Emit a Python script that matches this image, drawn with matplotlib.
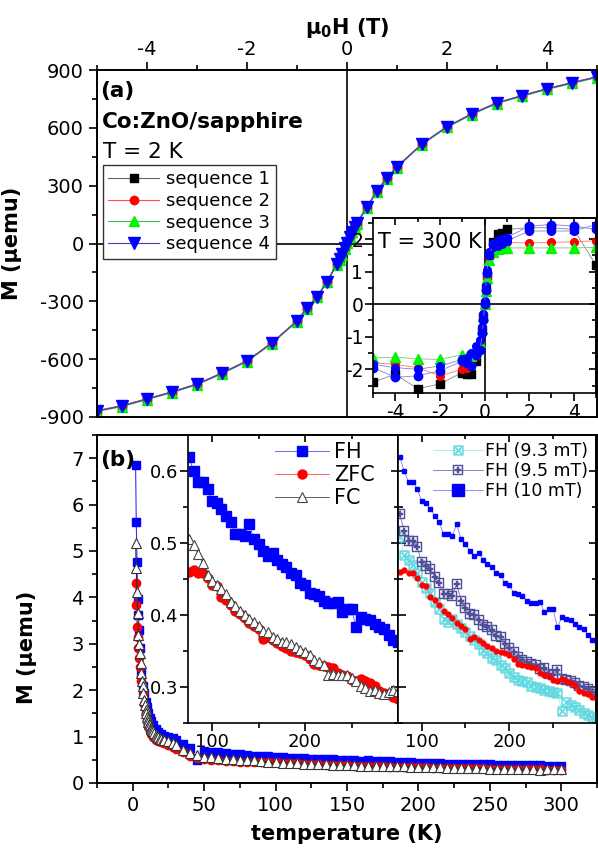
import matplotlib
matplotlib.use('Agg')
import matplotlib.pyplot as plt
from matplotlib.ticker import MultipleLocator, FixedLocator

plt.rcParams['font.family'] = ['DejaVu Sans']
plt.rcParams['axes.unicode_minus'] = False
plt.rcParams['mathtext.default'] = 'regular'

# ---------------- data: panel (a), T = 2 K ----------------
H2 = [-5, -4.5, -4, -3.5, -3, -2.5, -2, -1.5, -1, -0.8, -0.6, -0.4, -0.2, -0.15, -0.1, -0.05,
      0, 0.05, 0.1, 0.15, 0.2, 0.4, 0.6, 0.8, 1, 1.5, 2, 2.5, 3, 3.5, 4, 4.5, 5]
seq1_2K = [-866, -841, -805, -769, -728, -671, -608, -514, -400, -334, -275, -197, -104, -78, -53, -23,
           7, 37, 64, 87, 108, 191, 274, 342, 399, 518, 607, 674, 731, 768, 804, 835, 866]
seq2_2K = [-868, -842, -806, -770, -729, -672, -609, -515, -401, -335, -276, -198, -105, -79, -54, -24,
           6, 36, 63, 86, 107, 190, 273, 341, 398, 517, 606, 673, 730, 767, 803, 834, 865]
seq3_2K = [-872, -846, -810, -774, -733, -676, -613, -519, -405, -339, -280, -202, -109, -83, -58, -28,
           2, 32, 59, 82, 103, 186, 269, 337, 394, 513, 602, 669, 726, 763, 799, 830, 861]
seq4_2K = [-869, -843, -807, -771, -730, -673, -610, -516, -402, -336, -277, -199, -106, -80, -55, -25,
           5, 35, 62, 85, 106, 189, 272, 340, 397, 516, 605, 672, 729, 766, 802, 833, 864]

# ---------------- data: inset (a), T = 300 K ----------------
H300 = [-5, -4, -3, -2, -1, -0.8, -0.6, -0.4, -0.2, -0.1, -0.05, 0, 0.05, 0.1, 0.2, 0.4, 0.6, 0.8, 1, 2, 3, 4, 5]
seq1_300K = [-2.4, -2.15, -2.6, -2.45, -2.1, -2.15, -2.15, -1.75, -1.3, -0.8, -0.4, 0.0, 0.5, 0.9, 1.5, 1.9,
             2.15, 2.2, 2.3, 2.35, 2.35, 2.3, 1.2]
seq2_300K = [-1.8, -1.85, -1.95, -2.2, -2.0, -1.95, -1.9, -1.6, -1.2, -0.7, -0.3, 0.05, 0.45, 0.85, 1.45, 1.75,
             1.85, 1.9, 1.9, 1.88, 1.9, 1.92, 1.95]
seq3_300K = [-1.65, -1.63, -1.68, -1.7, -1.55, -1.6, -1.6, -1.45, -1.15, -0.75, -0.35, 0.0, 0.4, 0.8, 1.35, 1.6,
             1.7, 1.72, 1.73, 1.73, 1.73, 1.73, 1.75]
seq4_300K = [-1.95, -2.25, -2.2, -2.05, -1.75, -1.8, -1.9, -1.55, -1.4, -0.9, -0.5, 0.0, 0.45, 0.95, 1.5, 1.85,
             1.95, 2.0, 2.05, 2.4, 2.45, 2.4, 2.3]
seq4b_300K = [-1.85, -1.95, -2.0, -1.9, -1.7, -1.65, -1.5, -1.3, -1.1, -0.7, -0.3, 0.1, 0.55, 1.05, 1.6, 1.75,
              1.8, 1.85, 1.95, 2.25, 2.25, 2.25, 2.45]

# ---------------- data: panel (b) ----------------
T_low = [2, 2.5, 3, 3.5, 4, 4.5, 5, 6, 7, 8, 9, 10, 11, 12, 13, 14, 16, 18, 20, 22, 25, 28, 30,
         35, 40, 45, 50, 55, 60, 65, 70]
FH_low = [6.85, 5.62, 4.77, 3.97, 3.62, 3.3, 2.9, 2.37, 2.1, 1.94, 1.75, 1.64, 1.5, 1.4, 1.33, 1.26,
          1.17, 1.1, 1.05, 1.02, 1.0, 0.97, 0.93, 0.84, 0.76, 0.50, 0.68, 0.67, 0.66, 0.645, 0.63]
ZFC_low = [4.3, 3.84, 3.37, 3.15, 2.9, 2.7, 2.5, 2.2, 1.95, 1.7, 1.5, 1.35, 1.22, 1.12, 1.05, 1.0,
           0.93, 0.9, 0.88, 0.86, 0.82, 0.77, 0.74, 0.66, 0.59, 0.54, 0.51, 0.495, 0.485, 0.475, 0.468]
T_fc_low = [2, 2.5, 3, 3.5, 4, 4.5, 5, 5.5, 6, 6.5, 7, 7.5, 8, 8.5, 9, 9.5, 10, 10.5, 11, 11.5, 12, 12.5,
            13, 13.5, 14, 15, 16, 17, 18, 19, 20, 21, 22, 25, 28, 30, 35, 40, 45, 50, 55, 60, 65, 70]
FC_low = [5.17, 4.63, 4.12, 3.66, 3.19, 3.0, 2.8, 2.59, 2.37, 2.2, 2.08, 1.93, 1.79, 1.68, 1.57, 1.5,
          1.43, 1.37, 1.32, 1.28, 1.24, 1.2, 1.17, 1.14, 1.11, 1.07, 1.04, 1.01, 0.99, 0.97, 0.95, 0.93,
          0.92, 0.9, 0.86, 0.82, 0.72, 0.65, 0.6, 0.57, 0.55, 0.535, 0.525, 0.515]

T_high = [75, 80, 85, 90, 95, 100, 105, 110, 115, 120, 125, 130, 135, 140, 145, 150, 155, 160, 165, 170,
          175, 180, 185, 190, 195, 200, 205, 210, 215, 220, 225, 230, 235, 240, 245, 250, 255, 260, 265,
          270, 275, 280, 285, 290, 295, 300]
FH_high = [0.62, 0.60, 0.585, 0.585, 0.575, 0.558, 0.555, 0.547, 0.538, 0.529, 0.512, 0.513, 0.510, 0.526,
           0.505, 0.499, 0.489, 0.482, 0.486, 0.477, 0.471, 0.467, 0.459, 0.455, 0.445, 0.441, 0.431, 0.429,
           0.426, 0.420, 0.416, 0.417, 0.418, 0.404, 0.408, 0.408, 0.383, 0.397, 0.395, 0.393, 0.388, 0.384,
           0.380, 0.372, 0.365, 0.362]
ZFC_high = [0.46, 0.463, 0.458, 0.458, 0.452, 0.442, 0.440, 0.425, 0.421, 0.414, 0.405, 0.401, 0.396, 0.389,
            0.385, 0.381, 0.367, 0.370, 0.365, 0.361, 0.357, 0.354, 0.350, 0.348, 0.347, 0.344, 0.339, 0.332,
            0.330, 0.329, 0.328, 0.326, 0.320, 0.316, 0.315, 0.310, 0.309, 0.311, 0.308, 0.306, 0.301, 0.295,
            0.292, 0.290, 0.286, 0.284]
FC_high = [0.505, 0.497, 0.485, 0.472, 0.456, 0.447, 0.441, 0.436, 0.429, 0.418, 0.412, 0.405, 0.400, 0.395,
           0.390, 0.385, 0.378, 0.377, 0.370, 0.366, 0.363, 0.362, 0.360, 0.356, 0.352, 0.349, 0.344, 0.337,
           0.335, 0.330, 0.317, 0.318, 0.317, 0.316, 0.316, 0.312, 0.309, 0.302, 0.299, 0.295, 0.296, 0.292,
           0.290, 0.293, 0.296, 0.294]
FH95_high = [0.540, 0.517, 0.503, 0.503, 0.494, 0.473, 0.468, 0.464, 0.453, 0.444, 0.429, 0.429, 0.427, 0.443,
             0.420, 0.410, 0.401, 0.400, 0.393, 0.386, 0.383, 0.379, 0.371, 0.369, 0.360, 0.354, 0.348, 0.341,
             0.338, 0.335, 0.332, 0.330, 0.325, 0.326, 0.318, 0.316, 0.324, 0.311, 0.310, 0.308, 0.305, 0.302,
             0.300, 0.297, 0.293, 0.290]
FH93_high = [0.508, 0.484, 0.476, 0.469, 0.458, 0.446, 0.437, 0.430, 0.418, 0.408, 0.394, 0.390, 0.394, 0.387,
             0.382, 0.376, 0.371, 0.365, 0.360, 0.352, 0.347, 0.340, 0.337, 0.331, 0.326, 0.320, 0.314, 0.310,
             0.309, 0.307, 0.302, 0.300, 0.298, 0.296, 0.294, 0.293, 0.292, 0.266, 0.279, 0.275, 0.272, 0.268,
             0.264, 0.261, 0.258, 0.256]

T_FH = T_low + T_high
M_FH = FH_low + FH_high
T_ZFC = T_low + T_high
M_ZFC = ZFC_low + ZFC_high
T_FC = T_fc_low + T_high
M_FC = FC_low + FC_high

inset_T_ticks = [100, 200]
inset_T_minor = [50, 150, 250]

# ---------------- figure ----------------
W, Hh = 598, 856
fig = plt.figure(figsize=(W / 100, Hh / 100), dpi=100)


def fax(l, t, r, b):
    return fig.add_axes([l / W, 1 - b / Hh, (r - l) / W, (b - t) / Hh])


def style(ax, fs, lw=1.4):
    for s in ax.spines.values():
        s.set_linewidth(lw)
    ax.tick_params(which='major', length=6, width=1.2, labelsize=fs, direction='out')
    ax.tick_params(which='minor', length=3.5, width=1.2, direction='out')


def mirror(ax, xmaj, xmin, ymaj, ymin):
    sx = ax.secondary_xaxis('top')
    sx.xaxis.set_major_locator(xmaj)
    sx.xaxis.set_minor_locator(xmin)
    sx.tick_params(which='both', direction='in', labeltop=False, width=1.2)
    sx.tick_params(which='major', length=5)
    sx.tick_params(which='minor', length=3)
    sx.spines['top'].set_linewidth(1.2)
    sy = ax.secondary_yaxis('right')
    sy.yaxis.set_major_locator(ymaj)
    sy.yaxis.set_minor_locator(ymin)
    sy.tick_params(which='both', direction='in', labelright=False, width=1.2)
    sy.tick_params(which='major', length=5)
    sy.tick_params(which='minor', length=3)
    sy.spines['right'].set_linewidth(1.2)


# ---- panel (a)
axA = fax(97, 70, 597, 417)
style(axA, 14)
axA.set_xlim(-5, 5)
axA.set_ylim(-900, 900)
axA.xaxis.tick_top()
axA.xaxis.set_label_position('top')
axA.xaxis.set_major_locator(MultipleLocator(2))
axA.xaxis.set_minor_locator(MultipleLocator(1))
axA.yaxis.set_major_locator(MultipleLocator(300))
axA.yaxis.set_minor_locator(MultipleLocator(150))
axA.tick_params(axis='x', which='both', bottom=False, top=True, labelbottom=False, labeltop=True, pad=2)
axA.axhline(0, color='black', lw=1.2, zorder=1)
axA.axvline(0, color='black', lw=1.2, zorder=1)
axA.plot(H2, seq1_2K, '-s', color='#666666', mfc='black', mec='black', ms=6, lw=0.8, label='sequence 1')
axA.plot(H2, seq2_2K, '-o', color='#ff5050', mfc='#ff0000', mec='#ff0000', ms=6, lw=0.8, label='sequence 2')
axA.plot(H2, seq3_2K, '-^', color='#40c040', mfc='#00ff00', mec='#00ee00', ms=7.5, lw=0.8, label='sequence 3')
axA.plot(H2, seq4_2K, '-v', color='#4040c0', mfc='#0000ff', mec='#0000ff', ms=8, lw=0.8, label='sequence 4')
axA.set_xlabel('μ$_0$H (T)', fontsize=15, fontweight='bold', labelpad=4)
axA.set_ylabel('M (μemu)', fontsize=15, fontweight='bold')
axA.yaxis.set_label_coords(-0.15, 0.5)
leg = axA.legend(loc='upper left', bbox_to_anchor=(0.012, 0.726), fontsize=13, frameon=True, fancybox=False,
                 edgecolor='#333333', framealpha=1, borderpad=0.3, borderaxespad=0, labelspacing=0.2,
                 handlelength=2.8, handletextpad=0.4)
leg.get_frame().set_linewidth(1.0)
leg.set_zorder(5)
axA.text(0.006, 0.922, '(a)', transform=axA.transAxes, fontsize=15.5, fontweight='bold', va='baseline')
axA.text(0.010, 0.833, 'Co:ZnO/sapphire', transform=axA.transAxes, fontsize=15.5, fontweight='bold',
         va='baseline')
axA.text(0.012, 0.746, 'T = 2 K', transform=axA.transAxes, fontsize=15.5, va='baseline')

# ---- inset (a)
axIa = fax(373, 218, 596, 393)
style(axIa, 13.5, lw=1.2)
axIa.set_xlim(-5, 5)
axIa.set_ylim(-2.73, 2.65)
axIa.xaxis.set_major_locator(MultipleLocator(2))
axIa.xaxis.set_minor_locator(MultipleLocator(1))
axIa.yaxis.set_major_locator(MultipleLocator(1))
axIa.yaxis.set_minor_locator(MultipleLocator(0.5))
axIa.tick_params(which='both', pad=1)
mirror(axIa, MultipleLocator(2), MultipleLocator(1), MultipleLocator(1), MultipleLocator(0.5))
axIa.axhline(0, color='black', lw=1.2, zorder=1)
axIa.axvline(0, color='black', lw=1.2, zorder=1)
axIa.plot(H300, seq1_300K, '-s', color='#888888', mfc='black', mec='black', ms=5.5, lw=0.6)
axIa.plot(H300, seq2_300K, '-o', color='#ff7070', mfc='#ff0000', mec='#ff0000', ms=5.5, lw=0.6)
axIa.plot(H300, seq3_300K, '-^', color='#70d070', mfc='#00ff00', mec='#00ee00', ms=6.5, lw=0.6)
axIa.plot(H300, seq4b_300K, '-o', color='#8080e0', mfc='#0000ff', mec='#0000ff', ms=5.5, lw=0.6)
axIa.plot(H300, seq4_300K, '-o', color='#8080e0', mfc='#0000ff', mec='#0000ff', ms=6, lw=0.6)
axIa.text(0.022, 0.829, 'T = 300 K', transform=axIa.transAxes, fontsize=15, va='baseline')

# ---- panel (b)
axB = fax(97, 435, 597, 783)
style(axB, 14)
axB.set_xlim(-25, 325)
axB.set_ylim(0, 7.5)
axB.xaxis.set_major_locator(MultipleLocator(50))
axB.xaxis.set_minor_locator(MultipleLocator(25))
axB.yaxis.set_major_locator(MultipleLocator(1))
axB.yaxis.set_minor_locator(MultipleLocator(0.5))
axB.tick_params(which='both', top=False, right=False)
axB.plot(T_FH, M_FH, '-s', color='#3030ff', mfc='#0000ff', mec='#0000ff', ms=6, lw=0.8)
axB.plot(T_ZFC, M_ZFC, '-o', color='#ff3030', mfc='#ff0000', mec='#ff0000', ms=6, lw=0.8)
axB.plot(T_FC, M_FC, '-^', color='#333333', mfc='white', mec='#333333', ms=7, mew=0.8, lw=0.8)
axB.set_xlabel('temperature (K)', fontsize=15, fontweight='bold', labelpad=6)
axB.set_ylabel('M (μemu)', fontsize=15, fontweight='bold')
axB.yaxis.set_label_coords(-0.12, 0.39)
axB.text(0.006, 0.911, '(b)', transform=axB.transAxes, fontsize=15.5, fontweight='bold', va='baseline')

# ---- inset (b) left
axL = fax(188, 435, 398, 723)
style(axL, 13, lw=1.2)
axL.set_xlim(74, 300)
axL.set_ylim(0.25, 0.65)
axL.xaxis.set_major_locator(FixedLocator(inset_T_ticks))
axL.xaxis.set_minor_locator(FixedLocator(inset_T_minor))
axL.yaxis.set_major_locator(MultipleLocator(0.1))
axL.yaxis.set_minor_locator(MultipleLocator(0.05))
axL.tick_params(which='both', pad=1)
mirror(axL, FixedLocator(inset_T_ticks), FixedLocator(inset_T_minor), MultipleLocator(0.1), MultipleLocator(0.05))
axL.plot(T_high, FH_high, '-s', color='#5050ff', mfc='#0000ff', mec='#0000ff', ms=6.5, lw=0.6, label='FH')
axL.plot(T_high, ZFC_high, '-o', color='#ff5050', mfc='#ff0000', mec='#ff0000', ms=6.5, lw=0.6, label='ZFC')
axL.plot(T_high, FC_high, '-^', color='#444444', mfc='white', mec='#444444', ms=7, mew=0.8, lw=0.6, label='FC')
axL.legend(loc='upper left', bbox_to_anchor=(0.414, 0.975), fontsize=15, frameon=False, borderpad=0,
           borderaxespad=0, labelspacing=0.15, handlelength=2.6, handletextpad=0.25)

# ---- inset (b) right
axR = fax(398, 435, 596, 723)
style(axR, 13, lw=1.2)
axR.set_xlim(73, 299)
axR.set_ylim(0.25, 0.65)
axR.xaxis.set_major_locator(FixedLocator(inset_T_ticks))
axR.xaxis.set_minor_locator(FixedLocator(inset_T_minor))
axR.yaxis.set_major_locator(MultipleLocator(0.1))
axR.yaxis.set_minor_locator(MultipleLocator(0.05))
axR.tick_params(axis='y', which='both', direction='in', labelleft=False)
axR.tick_params(axis='x', which='both', pad=1)
mirror(axR, FixedLocator(inset_T_ticks), FixedLocator(inset_T_minor), MultipleLocator(0.1), MultipleLocator(0.05))
axR.plot(T_high, FH93_high, '-', color='#9feef0', lw=0.6, marker='$\\boxtimes$', ms=7, mfc='#5fd8e0',
         mec='#5fd8e0', mew=0.3, label='FH (9.3 mT)')
axR.plot(T_high, FH95_high, '-', color='#7070b0', lw=0.6, marker='$\\boxplus$', ms=7, mfc='#505098',
         mec='#505098', mew=0.3, label='FH (9.5 mT)')
axR.plot(T_high, ZFC_high, '-o', color='#ff7070', mfc='#ff0000', mec='#ff0000', ms=3.5, lw=0.5)
axR.plot(T_high, FH_high, '-s', color='#6060ff', mfc='#0000ff', mec='#0000ff', ms=3.5, lw=0.5, label='FH (10 mT)')
hR, lR = axR.get_legend_handles_labels()
legR = axR.legend(hR, lR, loc='upper left', bbox_to_anchor=(0.176, 0.975), fontsize=12.5, frameon=False,
                  borderpad=0, borderaxespad=0, labelspacing=0.12, handlelength=2.9, handletextpad=0.1)
legR.legend_handles[2].set_markersize(8)

fig.savefig('out.png', dpi=100)
